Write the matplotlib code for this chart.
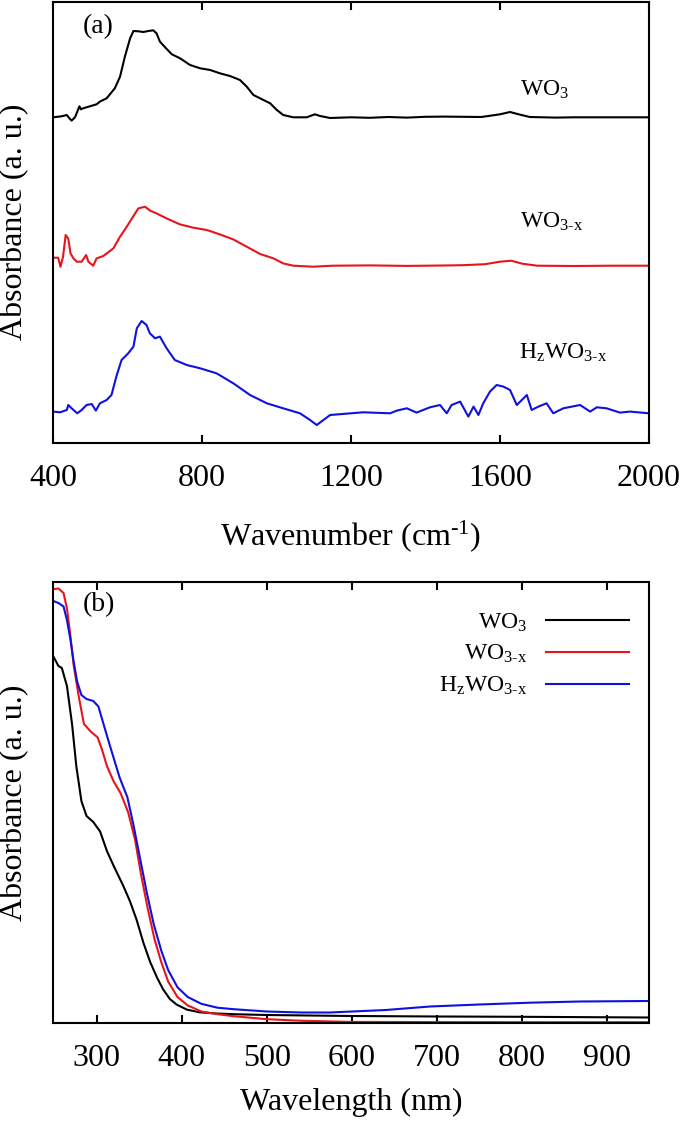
import matplotlib
matplotlib.use('Agg')
import matplotlib.pyplot as plt
import numpy as np

plt.rcParams['font.family'] = ['Liberation Serif', 'DejaVu Serif']
plt.rcParams['mathtext.fontset'] = 'custom'
plt.rcParams['mathtext.rm'] = 'Liberation Serif'
plt.rcParams['mathtext.it'] = 'Liberation Serif'

#~~~~~~~~~~~~~~~~~~
# (a) FTIR DATA
#~~~~~~~~~~~~~~~~~~

labels = ['WO$_3$', 'WO$_{3\\text{-}x}$', 'H$_z$WO$_{3\\text{-}x}$']

# height above each curve's own baseline
wn_wo3 = [401, 423, 437, 444, 450, 459, 471, 475, 481, 499, 517, 526, 544, 566, 580,
          593, 607, 616, 629, 643, 656, 669, 678, 687, 701, 719, 741, 768, 795, 822,
          848, 875, 902, 920, 938, 965, 983, 1001, 1018, 1045, 1081, 1103, 1117, 1144,
          1200, 1250, 1300, 1350, 1400, 1450, 1500, 1550, 1600, 1627, 1650, 1680, 1750,
          1800, 1900, 2000]
ab_wo3 = [0, 1, 2.3, -1, -3.3, 0, 11, 8, 9, 11, 13, 15.7, 19, 29, 40.7,
          60.7, 79, 86.3, 86, 85.3, 86.3, 87, 84, 75.7, 70, 63, 59, 52.3, 49, 47.3,
          44, 41.3, 37.3, 30.7, 22.3, 17.3, 14, 7.3, 2.3, 0, 0, 3, 1.3, -0.7,
          0, -0.5, 0.3, -0.3, 0.5, 0.7, 0.5, 0.3, 3, 5.3, 3, 0.3, -0.3,
          0, 0, 0]

wn_wo3x = [401, 414, 420, 427, 434, 441, 447, 455, 464, 477, 489, 495, 508, 517, 535,
           562, 580, 598, 616, 629, 647, 661, 678, 705, 741, 777, 813, 848, 884, 920,
           956, 992, 1018, 1045, 1098, 1152, 1250, 1350, 1450, 1500, 1560, 1600, 1630,
           1660, 1700, 1800, 1900, 2000]
ab_wo3x = [8, 8, -1, 9, 30.7, 27, 12.3, 7.3, 4, 4, 10.7, 4, 0, 7.3, 9.7,
           17.3, 29, 39, 49.7, 57.3, 59, 55, 52.3, 47.3, 41.3, 38, 35.7, 31.3, 26.3, 19,
           11.7, 7.3, 2.3, 0, -1, 0, 0.3, -0.2, 0.2, 0.5, 1.5, 4, 5,
           2, 0, -0.3, 0, 0]

wn_hwo3x = [401, 419, 437, 441, 450, 465, 477, 490, 504, 515, 526, 544, 557, 570, 584,
            602, 616, 625, 638, 651, 660, 674, 687, 705, 727, 759, 795, 839, 884, 929,
            974, 1018, 1063, 1090, 1108, 1126, 1144, 1233, 1305, 1323, 1350, 1376, 1412,
            1439, 1457, 1470, 1493, 1515, 1529, 1542, 1555, 1573, 1591, 1609, 1627, 1645,
            1672, 1685, 1703, 1725, 1743, 1770, 1815, 1842, 1860, 1886, 1922, 1949, 2000]
ab_hwo3x = [1.7, 1, 3.3, 8.3, 5, 0, 3.3, 8.3, 9.3, 2.7, 10, 13.3, 18.3, 36.7, 53.3,
            60, 66.7, 85, 92.3, 88.3, 80, 75, 76.7, 65, 53.3, 48.3, 45, 40, 30, 18.3,
            10, 5, 0, -6.7, -11.7, -6.7, -1.7, 1, 0, 2.7, 5, 0.7, 6,
            8.3, 0, 8.3, 11.7, -3.3, 6.7, -1.7, 10, 21.7, 28.3, 26.7, 23.3, 8.3,
            18.3, 3.3, 6.7, 10, 0, 5, 8.3, 1.7, 6, 5, 0.7, 1.7, 0]

#~~~~~~~~~~~~~~~~~~
# (b) UV-VIS DATA
#~~~~~~~~~~~~~~~~~~

nm_wo3 = [249, 255, 259, 265, 271, 276, 282, 288, 296, 304, 312, 320, 331, 339, 347,
          355, 363, 371, 378, 386, 394, 406, 421, 441, 461, 500, 600, 700, 800, 950]
uv_wo3 = [366.5, 357, 355, 337, 299, 257, 222, 207, 201, 191.5, 172, 157, 137.6, 122, 103,
          80, 60.7, 45.3, 33.8, 24, 18.4, 13.4, 10.7, 9.5, 8.8, 8, 7, 6.5, 6.2, 5.5]

nm_wo3x = [249, 255, 261, 265, 269, 273, 279, 285, 293, 301, 306, 312, 320, 328, 337,
           345, 352, 360, 368, 376, 384, 395, 407, 423, 442, 461, 500, 539, 598, 700,
           800, 950]
uv_wo3x = [433.8, 434.5, 430, 414.5, 387.6, 357, 326, 299, 291.5, 285.7, 274, 257, 241.5, 230, 210.7,
           183.8, 149, 114.5, 83.8, 60.7, 41.5, 26, 17.6, 11.5, 8.8, 6.8, 3.8, 2.3, 1.1, 0.9,
           0.8, 0.8]

nm_hwo3x = [249, 255, 261, 265, 269, 273, 277, 282, 288, 296, 302, 308, 316, 327, 336,
            343, 351, 359, 367, 376, 384, 395, 407, 423, 442, 461, 500, 540, 574, 640,
            692, 750, 809, 868, 950]
uv_hwo3x = [422, 420, 416.5, 403, 384, 360.7, 341.5, 328, 324, 322, 316.5, 299, 276, 245.3, 226,
            199, 164.5, 130, 99, 72.2, 53, 35.7, 26, 19.2, 15.3, 13.8, 11.5, 10.5, 10.5, 13,
            16.5, 18.5, 20.3, 21.5, 22]

colors = ['black', '#e8141a', '#1010e0']

#~~~~~~~~~~
# PLOTTING
#~~~~~~~~~~

fig = plt.figure(figsize=(6.85, 11.23), dpi=100)
ax1 = fig.add_axes([53/685, (1123-443)/1123, 596/685, 441.5/1123])
ax2 = fig.add_axes([53/685, (1123-1023)/1123, 596/685, 441/1123])

offsets = [325.7, 177.3, 29.7]
ftir = [(wn_wo3, ab_wo3), (wn_wo3x, ab_wo3x), (wn_hwo3x, ab_hwo3x)]
for (x, y), off, c in zip(ftir, offsets, colors):
	ax1.plot(x, np.array(y) + off, color=c, lw=1.5)

ax1.text(1655, 353, labels[0], fontsize=17, va='center', ha='left')
ax1.text(1655, 221, labels[1], fontsize=17, va='center', ha='left')
ax1.text(1650, 90, labels[2], fontsize=17, va='center', ha='left')
ax1.text(0.05, 0.943, '(a)', transform=ax1.transAxes, fontsize=20, va='center', ha='left')

ax1.set_xlim(400, 2000)
ax1.set_ylim(0, 441.5)
ax1.set_xticks([400, 800, 1200, 1600, 2000])
ax1.set_yticks([])
ax1.set_xlabel('Wavenumber (cm$^{\\text{-}1}$)', fontsize=23, labelpad=18)
ax1.set_ylabel('Absorbance (a. u.)', fontsize=23, labelpad=17)

uv = [(nm_wo3, uv_wo3), (nm_wo3x, uv_wo3x), (nm_hwo3x, uv_hwo3x)]
for (x, y), c, lab in zip(uv, colors, labels):
	ax2.plot(x, y, color=c, lw=1.5, label=lab)

ax2.text(0.05, 0.948, '(b)', transform=ax2.transAxes, fontsize=20, va='center', ha='left')
ax2.set_xlim(248.6, 949.5)
ax2.set_ylim(0, 441)
ax2.set_xticks([300, 400, 500, 600, 700, 800, 900])
ax2.set_yticks([])
ax2.set_xlabel('Wavelength (nm)', fontsize=23, labelpad=11)
ax2.set_ylabel('Absorbance (a. u.)', fontsize=23, labelpad=17)
ax2.legend(loc='upper right', bbox_to_anchor=(0.982, 0.955), borderaxespad=0,
           fontsize=17, frameon=False, markerfirst=False,
           handlelength=3.5, labelspacing=0.4, handletextpad=0.8)

for ax in [ax1, ax2]:
	for sp in ax.spines.values():
		sp.set_linewidth(1.5)
	ax.tick_params(axis='x', which='both', direction='in', top=True, bottom=True,
	               length=6, width=1.5, labelsize=23, pad=15)

plt.savefig('out.png', dpi=100)
